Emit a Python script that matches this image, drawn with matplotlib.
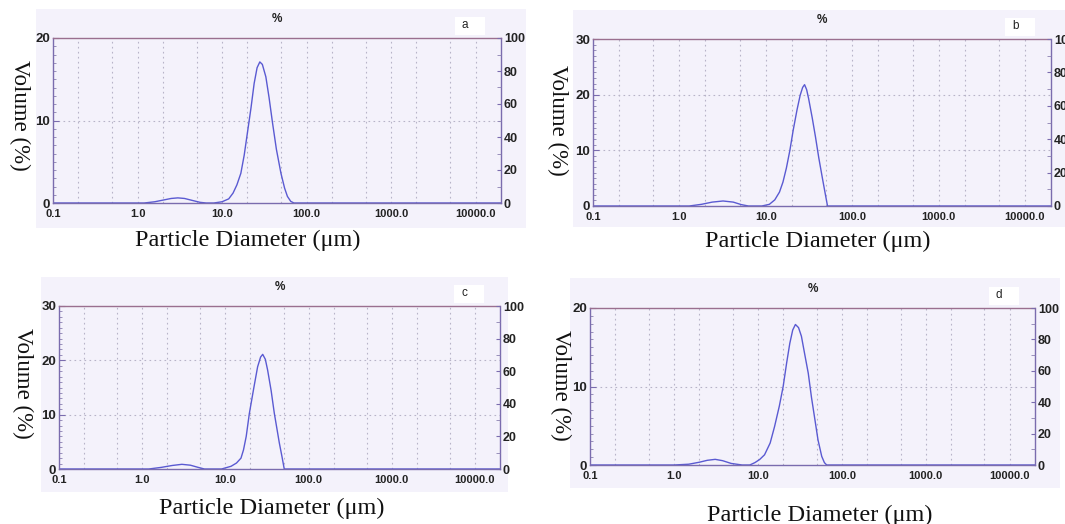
import numpy as np
import matplotlib
matplotlib.use('Agg')
import matplotlib.pyplot as plt
from matplotlib import font_manager
from matplotlib.ticker import FixedLocator, NullFormatter, MultipleLocator
from matplotlib.patches import Rectangle

names = {f.name for f in font_manager.fontManager.ttflist}
tick_font = 'Liberation Sans Narrow' if 'Liberation Sans Narrow' in names else 'Liberation Sans'
label_font = 'Liberation Serif'

# particle diameter (um) / volume (%)
diam_a = [0.1, 1.2, 1.6, 2.0, 2.5, 3.0, 3.6, 4.5, 5.5, 6.5, 8.0, 10, 12, 13.5, 15, 16.7, 18.3, 19.9,
          22, 24, 26, 28, 30, 33, 36, 39.6, 44, 49.8, 55, 59.4, 65, 71, 20000]
vol_a = [0, 0, 0.15, 0.35, 0.55, 0.62, 0.55, 0.3, 0.08, 0, 0, 0.15, 0.5, 1.2, 2.2, 3.6, 5.8, 8.4,
         11.5, 14.5, 16.4, 17.1, 16.8, 15.3, 12.8, 9.7, 6.5, 3.6, 1.8, 0.8, 0.2, 0, 0]

diam_b = [0.1, 1.3, 1.8, 2.4, 3.2, 4.2, 5.2, 6.3, 9, 11, 12.7, 14.4, 15.8, 17.3, 19, 20.8, 23, 25,
          26.7, 28.1, 29.7, 31.3, 34.5, 37.6, 41, 45.2, 48.5, 51.8, 20000]
vol_b = [0, 0, 0.3, 0.7, 0.9, 0.7, 0.25, 0, 0, 0.3, 1.1, 2.5, 4.3, 6.8, 10, 13.7, 17.3, 19.9,
         21.3, 21.8, 20.9, 19.3, 15.8, 12.4, 8.7, 5.0, 2.4, 0, 0]

diam_c = [0.1, 1.2, 1.7, 2.3, 3.0, 3.8, 4.7, 5.6, 9, 11.7, 13.6, 15.4, 16.5, 17.8, 19.4, 22, 24.4,
          26.5, 28.1, 30.2, 32.2, 35.5, 38.7, 44.5, 48, 51, 20000]
vol_c = [0, 0, 0.3, 0.65, 0.86, 0.7, 0.3, 0, 0, 0.5, 1.1, 2.0, 3.5, 6.0, 10.2, 15.0, 18.8,
         20.6, 21.1, 20.2, 18.2, 14.4, 10.3, 4.8, 2.2, 0, 0]

diam_d = [0.1, 1.0, 1.5, 2.0, 2.5, 3.1, 3.8, 4.8, 6.5, 8, 9.2, 10.5, 12, 14, 15.8, 18, 20, 22, 24,
          26, 28, 30.5, 33, 36, 39.8, 43.5, 47.9, 52, 57.6, 62, 66, 20000]
vol_d = [0, 0, 0.1, 0.35, 0.6, 0.72, 0.55, 0.2, 0, 0, 0.3, 0.7, 1.3, 2.8, 4.9, 7.5, 10, 13, 15.5,
         17.2, 17.9, 17.5, 16.4, 14.2, 11.7, 8.6, 5.7, 3.2, 1.1, 0.3, 0, 0]

x_ticks = [0.1, 1, 10, 100, 1000, 10000]
x_labels = ['0.1', '1.0', '10.0', '100.0', '1000.0', '10000.0']
x_grid = [0.2, 0.5, 1, 2, 5, 10, 20, 50, 100, 200, 500, 1000, 2000, 5000, 10000]

W, H = 1065, 524
bg = '#f4f2fb'
line_c = '#5a5ad2'
spine_c = '#7a6cae'

fig = plt.figure(figsize=(W / 100, H / 100), dpi=100)
fig.patch.set_facecolor('white')


def px_rect(x0, y0, x1, y1):
    return [x0 / W, 1 - y1 / H, (x1 - x0) / W, (y1 - y0) / H]


def fig_box(x0, y0, x1, y1, color, z):
    fig.patches.append(Rectangle((x0 / W, 1 - y1 / H), (x1 - x0) / W, (y1 - y0) / H,
                                 transform=fig.transFigure, facecolor=color, edgecolor='none', zorder=z))


panels = [
    # letter, data, y max, axes box, background box, ylabel pos, xlabel pos
    ('a', diam_a, vol_a, 20, (53, 38, 501, 203), (36, 9, 526, 228), (20, 115), (248, 240)),
    ('b', diam_b, vol_b, 30, (593, 39, 1051, 206), (573, 10, 1065, 227), (558, 120), (818, 241)),
    ('c', diam_c, vol_c, 30, (59, 306, 500, 469), (41, 277, 508, 492), (23, 383), (272, 508)),
    ('d', diam_d, vol_d, 20, (590, 308, 1035, 465), (570, 278, 1060, 488), (561, 385), (820, 515)),
]

for letter, dx, vy, ymax, box, bgbox, ylp, xlp in panels:
    fig_box(*bgbox, bg, -5)

    ax = fig.add_axes(px_rect(*box))
    ax.set_facecolor(bg)
    ax.plot(dx, vy, color=line_c, lw=1.0)
    ax.set_xscale('log')
    ax.set_xlim(0.1, 2e4)
    ax.set_ylim(0, ymax)

    ax.xaxis.set_major_locator(FixedLocator(x_ticks))
    ax.set_xticklabels(x_labels)
    ax.xaxis.set_minor_locator(FixedLocator(x_grid))
    ax.xaxis.set_minor_formatter(NullFormatter())
    ax.tick_params(axis='x', which='both', length=0, pad=4)
    for g in x_grid:
        ax.axvline(g, color='#b8b4c8', lw=0.8, ls=(0, (1.5, 3)), zorder=0.5)

    ax.yaxis.set_major_locator(MultipleLocator(10))
    ax.yaxis.set_minor_locator(MultipleLocator(1))
    ax.tick_params(axis='y', which='major', direction='in', length=4, pad=2, color=spine_c)
    ax.tick_params(axis='y', which='minor', direction='in', length=2.5, color='#8a80b0')
    for g in range(10, ymax, 10):
        ax.axhline(g, color='#b8b4c8', lw=0.8, ls=(0, (1.5, 3)), zorder=0.5)

    for lab in ax.get_xticklabels():
        lab.set_fontfamily(tick_font)
        lab.set_fontsize(8)
        lab.set_fontweight('bold')
        lab.set_color('#222222')
    for lab in ax.get_yticklabels():
        lab.set_fontfamily(tick_font)
        lab.set_fontsize(9.5)
        lab.set_fontweight('bold')
        lab.set_color('#222222')

    for s in ax.spines.values():
        s.set_color(spine_c)
        s.set_linewidth(1)
    ax.spines['top'].set_color('#9a6f8f')
    ax.spines['top'].set_linestyle((0, (2, 1)))

    ax2 = ax.twinx()
    ax2.set_ylim(0, 100)
    ax2.yaxis.set_major_locator(MultipleLocator(20))
    ax2.yaxis.set_minor_locator(MultipleLocator(10))
    ax2.tick_params(axis='y', which='major', direction='in', length=3, pad=2, color=spine_c)
    ax2.tick_params(axis='y', which='minor', direction='in', length=3, color='#8a80b0')
    for lab in ax2.get_yticklabels():
        lab.set_fontfamily(tick_font)
        lab.set_fontsize(9)
        lab.set_fontweight('bold')
        lab.set_color('#222222')
    for s in ax2.spines.values():
        s.set_visible(False)

    x0, y0, x1, y1 = box
    fig.text((x0 + x1) / 2 / W, 1 - (y0 - 19) / H, '%', ha='center', va='center',
             fontsize=8.5, fontweight='bold', family=tick_font, color='#222222')
    fig_box(x1 - 46, y0 - 21, x1 - 16, y0 - 3, 'white', -4)
    fig.text((x1 - 39) / W, 1 - (y0 - 13) / H, letter, ha='left', va='center',
             fontsize=8.5, family=tick_font, color='#222222')

    fig.text(ylp[0] / W, 1 - ylp[1] / H, 'Volume (%)', rotation=-90, ha='center', va='center',
             fontsize=16.5, family=label_font, color='#111111')
    fig.text(xlp[0] / W, 1 - xlp[1] / H, 'Particle Diameter (\u03bcm)', ha='center', va='center',
             fontsize=17.5, family=label_font, color='#111111')

fig.savefig('out.png', dpi=100)
